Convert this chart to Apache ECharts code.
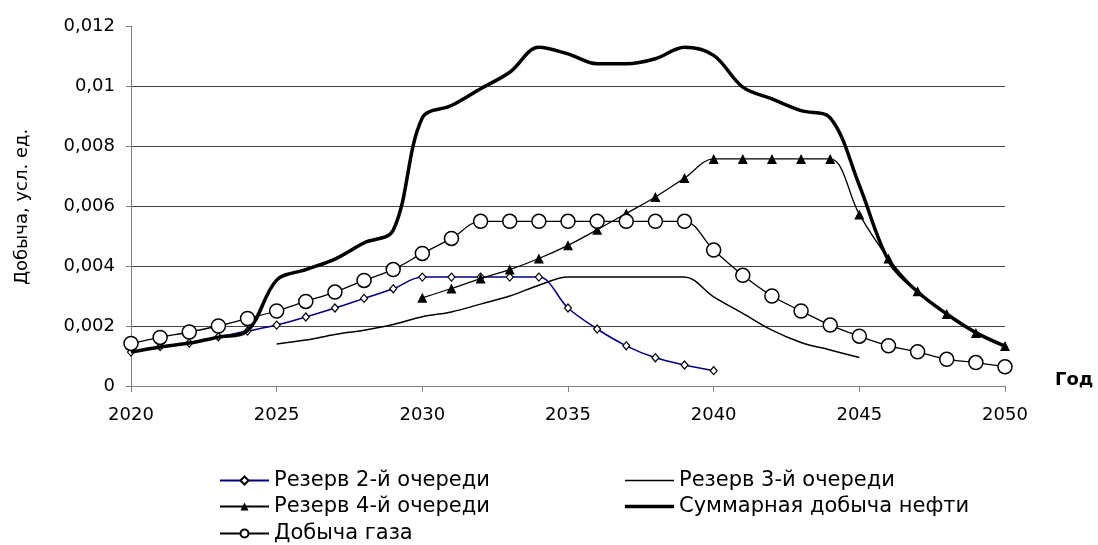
<!DOCTYPE html>
<html>
<head>
<meta charset="utf-8">
<script src="https://cdn.jsdelivr.net/npm/echarts@6/dist/echarts.min.js"></script>
<style>
html,body{margin:0;padding:0;background:#fff;}
#chart{width:1098px;height:545px;}
</style>
</head>
<body>
<div id="chart"></div>
<script>
const years = [2020,2021,2022,2023,2024,2025,2026,2027,2028,2029,2030,2031,2032,2033,2034,2035,2036,2037,2038,2039,2040,2041,2042,2043,2044,2045,2046,2047,2048,2049,2050];
const res2 = [0.00113,0.00131,0.00143,0.00164,0.00183,0.00203,0.0023,0.0026,0.00292,0.00324,0.00363,0.00363,0.00363,0.00363,0.00363,0.0026,0.0019,0.00134,0.00094,0.0007,0.00051,null,null,null,null,null,null,null,null,null,null];
const res3 = [null,null,null,null,null,0.0014,0.00153,0.00172,0.00186,0.00205,0.00231,0.00247,0.00273,0.003,0.00336,0.00363,0.00363,0.00363,0.00363,0.00363,0.00297,0.00242,0.00186,0.00145,0.0012,0.00095,null,null,null,null,null];
const res4 = [null,null,null,null,null,null,null,null,null,null,0.00294,0.00325,0.00358,0.00388,0.00425,0.00469,0.00521,0.00575,0.0063,0.00693,0.00757,0.00757,0.00757,0.00757,0.00757,0.00572,0.00425,0.00316,0.0024,0.00177,0.00133];
const total = [0.00113,0.0013,0.00143,0.00163,0.00184,0.00353,0.00388,0.00423,0.00477,0.00519,0.00894,0.00935,0.00991,0.01046,0.01129,0.01107,0.01074,0.01074,0.01091,0.01129,0.01102,0.00996,0.00957,0.00918,0.00894,0.00669,0.00419,0.00314,0.0024,0.00178,0.00133];
const gas = [0.00142,0.00162,0.0018,0.002,0.00225,0.0025,0.00282,0.00313,0.00352,0.00388,0.00442,0.00492,0.00549,0.00549,0.00549,0.00549,0.00549,0.00549,0.00549,0.00549,0.00453,0.00369,0.003,0.0025,0.00203,0.00166,0.00134,0.00114,0.00089,0.00078,0.00064];
const seriesNames = ['Резерв 2-й очереди','Резерв 3-й очереди','Резерв 4-й очереди','Суммарная добыча нефти','Добыча газа'];
const yTitle = 'Добыча, усл. ед.';
const xTitle = 'Год';

const FONT = '"DejaVu Sans", Verdana, sans-serif';
function pairs(arr){ return years.map((y,i)=> arr[i]==null ? null : [y, arr[i]]).filter(p=>p); }

const chart = echarts.init(document.getElementById('chart'), null, {renderer:'canvas'});
function leg(left, top, item, h){
  return {
    left: left, top: top, data: [item],
    itemWidth: 49, itemHeight: h || 10, itemGap: 5,
    textStyle: {fontFamily: FONT, fontSize: 21, color: '#000'},
    selectedMode: false, padding: 0
  };
}
const option = {
  backgroundColor: '#fff',
  animation: false,
  grid: {left: 131, right: 93, top: 26, bottom: 159, containLabel: false},
  xAxis: {
    type: 'value', min: 2020, max: 2050, interval: 5,
    axisLine: {show: true, lineStyle: {color: '#808080', width: 1}},
    axisTick: {show: true, length: 6, lineStyle: {color: '#808080'}},
    axisLabel: {fontFamily: FONT, fontSize: 18, color: '#000', margin: 20, formatter: v => String(v)},
    splitLine: {show: false}
  },
  yAxis: {
    type: 'value', min: 0, max: 0.012, interval: 0.002,
    axisLine: {show: true, lineStyle: {color: '#808080', width: 1}},
    axisTick: {show: true, length: 5, lineStyle: {color: '#808080'}},
    axisLabel: {fontFamily: FONT, fontSize: 18, color: '#000', margin: 16,
      formatter: v => String(+v.toFixed(4)).replace('.', ',')},
    splitLine: {show: true, lineStyle: {color: ['#444','#444','#444','#444','#444','#444','rgba(0,0,0,0)'], width: 1}}
  },
  legend: [
    leg(219, 470, seriesNames[0]),
    leg(625, 470, {name: seriesNames[1], icon: 'rect'}, 1.5),
    leg(219, 496, seriesNames[2]),
    leg(625, 496, {name: seriesNames[3], icon: 'rect'}, 3.5),
    leg(219, 523, seriesNames[4])
  ],
  graphic: [
    {type: 'text', x: 22, y: 207, rotation: Math.PI/2,
      style: {text: yTitle, font: '18px ' + FONT, fill: '#000', textAlign: 'center', textVerticalAlign: 'middle'}},
    {type: 'text', x: 1055, y: 380,
      style: {text: xTitle, font: 'bold 18px ' + FONT, fill: '#000', textAlign: 'left', textVerticalAlign: 'middle'}}
  ],
  series: [
    {name: seriesNames[0], type: 'line', data: pairs(res2), smooth: 0.35,
      symbol: 'diamond', symbolSize: [7, 8], showAllSymbol: true,
      lineStyle: {color: '#000080', width: 1.5},
      itemStyle: {color: '#fff', borderColor: '#000', borderWidth: 1.2}, z: 2},
    {name: seriesNames[1], type: 'line', data: pairs(res3), smooth: 0.35,
      symbol: 'circle', showSymbol: false,
      lineStyle: {color: '#000', width: 1.5}, itemStyle: {color: '#000'}, z: 2},
    {name: seriesNames[2], type: 'line', data: pairs(res4), smooth: 0.35,
      symbol: 'triangle', symbolSize: 10, showAllSymbol: true,
      lineStyle: {color: '#000', width: 1.3},
      itemStyle: {color: '#000', borderColor: '#000', borderWidth: 0}, z: 3},
    {name: seriesNames[3], type: 'line', data: pairs(total), smooth: 0.35,
      symbol: 'circle', showSymbol: false,
      lineStyle: {color: '#000', width: 3.5}, itemStyle: {color: '#000'}, z: 4},
    {name: seriesNames[4], type: 'line', data: pairs(gas), smooth: 0.35,
      symbol: 'circle', symbolSize: 14, showAllSymbol: true,
      lineStyle: {color: '#000', width: 1.3},
      itemStyle: {color: '#fff', borderColor: '#000', borderWidth: 1.5}, z: 5}
  ]
};
chart.setOption(option);
</script>
</body>
</html>
